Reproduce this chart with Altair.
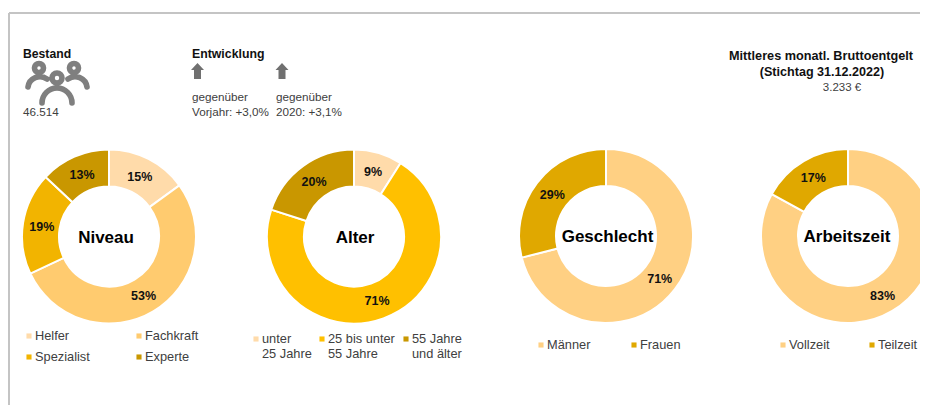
import altair as alt
import pandas as pd

FONT = "Liberation Sans"
OFF = 8  # page margin

donut_names = ["Niveau", "Alter", "Geschlecht", "Arbeitszeit"]
niveau_cats = ["Helfer", "Fachkraft", "Spezialist", "Experte"]
niveau_vals = [15, 53, 19, 13]
niveau_cols = ["#FFDBAA", "#FFCB6F", "#F2B400", "#C99700"]
alter_cats = ["unter|25 Jahre", "25 bis unter|55 Jahre", "55 Jahre|und älter"]
alter_vals = [9, 71, 20]
alter_cols = ["#FFDBAA", "#FFC000", "#C99700"]
geschlecht_cats = ["Männer", "Frauen"]
geschlecht_vals = [71, 29]
geschlecht_cols = ["#FFD083", "#E0A800"]
arbeit_cats = ["Vollzeit", "Teilzeit"]
arbeit_vals = [83, 17]
arbeit_cols = ["#FFD083", "#E0A800"]

one = alt.Data(values=[{"a": 1}])
layers = []


def px(v):
    return alt.value(v - OFF)


def label(txt, x, y, size=11.7, bold=False, color="#404040", align="left", baseline="middle"):
    layers.append(
        alt.Chart(one)
        .mark_text(font=FONT, fontSize=size, fontWeight="bold" if bold else "normal", color=color,
                   align=align, baseline=baseline, lineBreak="|", lineHeight=15)
        .encode(x=px(x), y=px(y), text=alt.value(txt))
    )


def donut(name, cats, vals, cols, cx, cy, name_x):
    df = pd.DataFrame({"cat": cats, "val": vals, "ord": range(len(cats))})
    df["pct"] = df["val"].astype(str) + "%"
    total = sum(vals)
    theta = alt.Theta("val:Q", stack=True, scale=alt.Scale(domain=[0, total], range=[0, 6.28318530718]))
    color = alt.Color("cat:N", scale=alt.Scale(domain=cats, range=cols), legend=None)
    base = alt.Chart(df)
    layers.append(
        base.mark_arc(innerRadius=50, outerRadius=87, stroke="white", strokeWidth=2)
        .encode(theta=theta, color=color, order=alt.Order("ord:Q"), x=px(cx), y=px(cy))
    )
    layers.append(
        base.mark_text(font=FONT, fontSize=12.5, fontWeight="bold", color="#111111", radius=68, dy=1)
        .encode(theta=theta, order=alt.Order("ord:Q"), text="pct:N", x=px(cx), y=px(cy))
    )
    label(name, name_x, cy + 1, size=17, bold=True, color="#000000", align="center")


def legend(cols, names, xs, ys, size=12.8):
    for col, name, x, y in zip(cols, names, xs, ys):
        layers.append(
            alt.Chart(one)
            .mark_square(size=26, color=col, opacity=1)
            .encode(x=px(x), y=px(y))
        )
        label(name, x + 6, y + 4, size=size, baseline="alphabetic")


# frame
layers.append(alt.Chart(one).mark_rule(color="#C4C4C4", strokeWidth=2).encode(x=px(9), x2=px(920), y=px(13)))
layers.append(alt.Chart(one).mark_rule(color="#C4C4C4", strokeWidth=2).encode(x=px(9), y=px(13), y2=px(405)))

# header
label("Bestand", 23, 54, size=12.2, bold=True, color="#111111")
label("46.514", 23, 112)
label("Entwicklung", 192, 54, size=12.3, bold=True, color="#111111")
label("gegenüber", 192, 97)
label("Vorjahr: +3,0%", 192, 112)
label("gegenüber", 276, 97)
label("2020: +3,1%", 276, 112)
label("Mittleres monatl. Bruttoentgelt", 821, 56, size=12.7, bold=True, color="#111111", align="center")
label("(Stichtag 31.12.2022)", 822, 72, size=12.6, bold=True, color="#111111", align="center")
label("3.233 €", 842, 88, size=11.5, align="center")

# icons
ARROW = "M0,-8 L6.5,-1 L3.5,-1 L3.5,8 L-3.5,8 L-3.5,-1 L-6.5,-1 Z"
for ax in (197.5, 282):
    layers.append(
        alt.Chart(one).mark_point(shape=ARROW, size=4, filled=True, color="#707070", opacity=1, strokeWidth=0)
        .encode(x=px(ax), y=px(71))
    )
PEOPLE = (
    "M-18,-16 m-4.5,0 a4.5,4.5 0 1,0 9,0 a4.5,4.5 0 1,0 -9,0 "
    "M17,-16 m-4.5,0 a4.5,4.5 0 1,0 9,0 a4.5,4.5 0 1,0 -9,0 "
    "M0,-6 m-5,0 a5,5 0 1,0 10,0 a5,5 0 1,0 -10,0 "
    "M-29,3 A12,12 0 0 1 -10,-5 M30,3 A12,12 0 0 0 11,-5 "
    "M-15,19 A15,15 0 0 1 15,19"
)
layers.append(
    alt.Chart(one).mark_point(shape=PEOPLE, size=4, filled=False, stroke="#7F7F7F", strokeWidth=5.6, opacity=1, strokeCap="round")
    .encode(x=px(57), y=px(84))
)

# donuts
donut("Niveau", niveau_cats, niveau_vals, niveau_cols, 109, 236.5, 106)
donut("Alter", alter_cats, alter_vals, alter_cols, 354, 236.5, 355)
donut("Geschlecht", geschlecht_cats, geschlecht_vals, geschlecht_cols, 606, 236, 607.5)
donut("Arbeitszeit", arbeit_cats, arbeit_vals, arbeit_cols, 848, 236, 847)

# legends
legend(niveau_cols, niveau_cats, [29, 139, 29, 139], [336, 336, 357, 357])
legend(alter_cols, alter_cats, [256, 322, 406], [339, 339, 339])
legend(geschlecht_cols, geschlecht_cats, [541, 634], [345, 345])
legend(arbeit_cols, arbeit_cats, [783, 872], [345, 345])

chart = (
    alt.layer(*layers)
    .resolve_scale(color="independent", theta="independent")
    .properties(width=912, height=397, padding=0, autosize=alt.AutoSizeParams(type="none"), background="white")
    .configure_view(stroke=None)
)
chart.save("out.html", embed_options={"renderer": "svg", "actions": False})
